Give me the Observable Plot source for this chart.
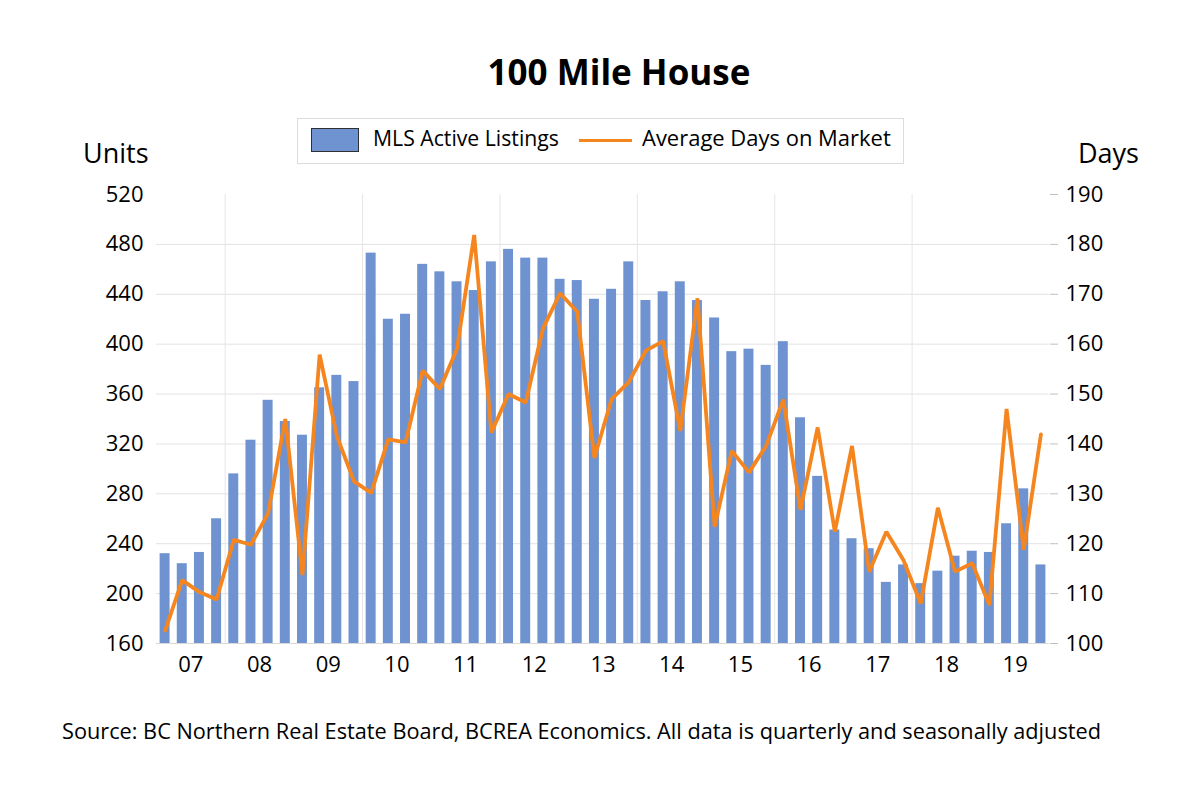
<!DOCTYPE html>
<html>
<head>
<meta charset="utf-8">
<script src="https://cdn.jsdelivr.net/npm/d3@7"></script>
<script src="https://cdn.jsdelivr.net/npm/@observablehq/plot@0.6"></script>
<style>
  html, body { margin: 0; padding: 0; background: #fff; }
  #wrap { position: relative; width: 1200px; height: 800px; background: #fff; font-family: "Open Sans", sans-serif; color: #000; overflow: hidden; }
  .abs { position: absolute; line-height: 1; white-space: nowrap; }
  #chart { position: absolute; left: 0; top: 170px; }
</style>
</head>
<body>
<div id="wrap">
  <div class="abs" id="title" style="left:0; width:1238px; text-align:center; top:54px; font-size:35px; font-weight:700;">100 Mile House</div>
  <div class="abs" id="legend" style="left:297px; top:118px; width:605px; height:44px; border:1px solid #dcdcdc;"></div>
  <div class="abs" id="unitsLbl" style="left:83px; top:139px; font-size:27px;">Units</div>
  <div class="abs" id="daysLbl" style="left:1078px; top:139px; font-size:27px;">Days</div>
  <div id="chart"></div>
  <div class="abs" id="caption" style="left:62px; top:721px; font-size:21px; transform-origin:0 0; transform:scaleX(1.034);"></div>
</div>
<script>
// ---- Data (quarterly, 2007 Q1 – 2019 Q4) ----
const yearLabels = ["07","08","09","10","11","12","13","14","15","16","17","18","19"];
const quarterNames = ["Q1","Q2","Q3","Q4"];
const listings = [
  232,224,233,260, 296,323,355,338, 327,365,375,370, 473,420,424,464,
  458,450,443,466, 476,469,469,452, 451,436,444,466, 435,442,450,435,
  421,394,396,383, 402,341,294,251, 244,236,209,223, 208,218,230,234,
  233,256,284,223
];
const daysOnMarket = [
  102.6,112.7,110.3,108.8, 120.8,119.8,126.1,145.0, 113.7,157.9,141.6,132.5,
  130.2,140.9,140.3,154.7, 151.0,159.1,181.9,142.3, 150.0,148.3,163.1,170.2,
  166.5,137.2,149.0,152.4, 158.7,160.6,142.6,169.2, 123.4,138.6,134.3,139.6,
  148.9,126.8,143.3,122.4, 139.6,114.4,122.4,116.7, 108.0,127.2,114.4,116.1,
  107.7,147.0,118.8,141.9
];
const unitsTicks = [160,200,240,280,320,360,400,440,480,520];
const daysTicks = [100,110,120,130,140,150,160,170,180,190];
const seriesNames = ["MLS Active Listings", "Average Days on Market"];
const titleText = "100 Mile House";
const captionText = "Source: BC Northern Real Estate Board, BCREA Economics. All data is quarterly and seasonally adjusted";

const barColor = "#6f93d0";
const lineColor = "#f5861f";

// build table
const data = listings.map((v, i) => ({
  i,
  label: "20" + yearLabels[Math.floor(i / 4)] + " " + quarterNames[i % 4],
  listings: v,
  days: daysOnMarket[i]
}));

// map days (right axis) onto units (left axis) scale
const d0 = daysTicks[0], d1 = daysTicks[daysTicks.length - 1];
const u0 = unitsTicks[0], u1 = unitsTicks[unitsTicks.length - 1];
const daysToUnits = d => u0 + (d - d0) * (u1 - u0) / (d1 - d0);
const unitsToDays = u => d0 + (u - u0) * (d1 - d0) / (u1 - u0);

// year label positions: centre of each year's 4 quarters
const yearPos = yearLabels.map((y, k) => k * 4 + 1.5);
// vertical gridlines every two years at year boundaries (2008, 2010, ...)
const vGrid = yearLabels.map((y, k) => k * 4 - 0.5).filter((v, k) => k % 2 === 1);

const chart = Plot.plot({
  width: 1200,
  height: 513,
  marginLeft: 156,
  marginRight: 151,
  marginTop: 24,
  marginBottom: 40,
  x: { domain: [-0.5, listings.length - 0.5] },
  y: { domain: [u0, u1] },
  style: { fontFamily: "Open Sans", fontSize: "22px", color: "#000", background: "transparent", overflow: "visible" },
  marks: [
    Plot.ruleY(unitsTicks.slice(1, -1), { stroke: "#e2e2e2", strokeWidth: 1 }),
    Plot.ruleX(vGrid, { stroke: "#e6e6e6", strokeWidth: 1 }),
    Plot.rect(data, {
      x1: d => d.i - 0.29,
      x2: d => d.i + 0.29,
      y1: u0,
      y2: "listings",
      fill: barColor
    }),
    Plot.ruleY([u0], { stroke: "#d9d9d9" }),
    Plot.line(data, {
      x: "i",
      y: d => daysToUnits(d.days),
      stroke: lineColor,
      strokeWidth: 3.8,
      strokeLinejoin: "miter"
    }),
    Plot.axisY(unitsTicks, { anchor: "left", tickSize: 0, tickPadding: 13, label: null }),
    Plot.axisY(unitsTicks, { anchor: "right", tickSize: 8, tickPadding: 8, stroke: "#bfbfbf", fill: "#000", tickFormat: u => String(unitsToDays(u)), label: null }),
    Plot.axisX(yearPos, { anchor: "bottom", tickSize: 0, tickPadding: 13, tickFormat: (v, k) => yearLabels[k], label: null })
  ]
});
document.getElementById("chart").appendChild(chart);

document.getElementById("title").textContent = titleText;
document.getElementById("caption").textContent = captionText;

// legend
const legend = document.getElementById("legend");
legend.innerHTML = `
  <div style="position:absolute; left:13px; top:9px; width:48px; height:24px; background:${barColor}; border:1px solid #303030; box-sizing:border-box;"></div>
  <div style="position:absolute; left:75px; top:9px; font-size:21px; line-height:1; white-space:nowrap; transform-origin:0 0; transform:scaleX(1.01);">${seriesNames[0]}</div>
  <div style="position:absolute; left:281px; top:20px; width:53px; height:3px; background:${lineColor};"></div>
  <div style="position:absolute; left:344px; top:9px; font-size:21px; line-height:1; white-space:nowrap; transform-origin:0 0; transform:scaleX(1.046);">${seriesNames[1]}</div>
`;
</script>
</body>
</html>
